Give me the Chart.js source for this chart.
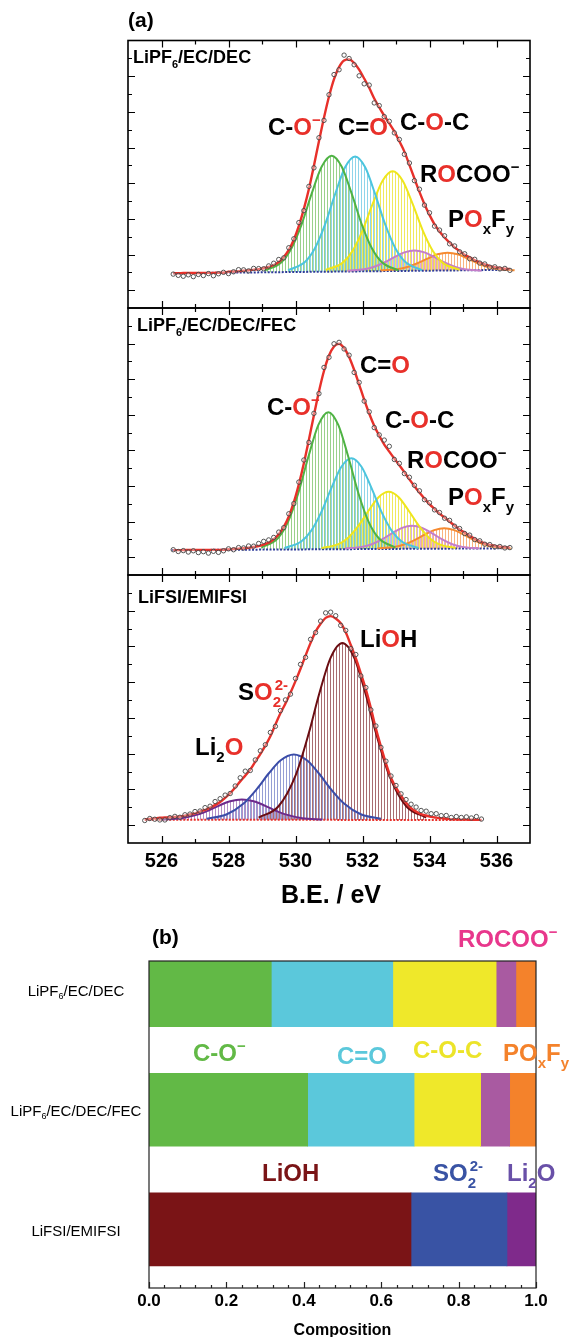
<!DOCTYPE html>
<html>
<head>
<meta charset="utf-8">
<title>O 1s XPS fits and composition</title>
<script src="https://cdn.jsdelivr.net/npm/chart.js@4.4.1/dist/chart.umd.min.js"></script>
<style>
  body { margin: 0; background: #fff; }
  #page { position: relative; width: 572px; height: 1337px; overflow: hidden; }
  #page canvas { position: absolute; left: 0; top: 0; }
</style>
</head>
<body>
<div id="page">
  <canvas id="xpsTop" width="572" height="1337"></canvas>
  <canvas id="xpsMid" width="572" height="1337"></canvas>
  <canvas id="xpsBot" width="572" height="1337"></canvas>
  <canvas id="composition" width="572" height="1337"></canvas>
</div>
<script>
// ---------- (a) O 1s spectra, B.E. in eV, intensity in arbitrary units ----------
const energyA = [526.35,526.5,526.65,526.8,526.95,527.1,527.25,527.4,527.55,527.7,527.85,528,528.15,528.3,528.45,528.6,528.75,528.9,529.05,529.2,529.35,529.5,529.65,529.8,529.95,530.1,530.25,530.4,530.55,530.7,530.85,531,531.15,531.3,531.45,531.6,531.75,531.9,532.05,532.2,532.35,532.5,532.65,532.8,532.95,533.1,533.25,533.4,533.55,533.7,533.85,534,534.15,534.3,534.45,534.6,534.75,534.9,535.05,535.2,535.35,535.5,535.65,535.8,535.95,536.1,536.25,536.4];
const energyB = [525.5,525.65,525.8,525.95,526.1,526.25,526.4,526.55,526.7,526.85,527,527.15,527.3,527.45,527.6,527.75,527.9,528.05,528.2,528.35,528.5,528.65,528.8,528.95,529.1,529.25,529.4,529.55,529.7,529.85,530,530.15,530.3,530.45,530.6,530.75,530.9,531.05,531.2,531.35,531.5,531.65,531.8,531.95,532.1,532.25,532.4,532.55,532.7,532.85,533,533.15,533.3,533.45,533.6,533.75,533.9,534.05,534.2,534.35,534.5,534.65,534.8,534.95,535.1,535.25,535.4,535.55];

// LiPF6/EC/DEC
const scanTop = [1.90,1.83,1.78,1.86,1.76,1.88,1.82,1.93,1.81,1.92,2.00,1.93,2.03,2.15,2.14,2.08,2.22,2.21,2.20,2.36,2.51,2.72,2.81,3.38,3.88,4.79,5.46,6.82,7.86,9.55,10.52,11.96,13.09,13.36,14.18,13.99,13.64,13.02,12.57,12.50,11.50,11.35,10.73,10.47,9.82,9.45,8.62,8.13,7.14,6.66,5.77,5.34,4.59,4.37,4.05,3.60,3.48,3.15,3.04,2.76,2.73,2.52,2.47,2.29,2.31,2.19,2.22,2.11];
const fitTop = [1.95,1.95,1.96,1.96,1.96,1.96,1.97,1.97,1.97,1.98,1.98,2.03,2.05,2.07,2.09,2.12,2.15,2.18,2.23,2.30,2.41,2.58,2.86,3.26,3.83,4.61,5.56,6.67,7.98,9.35,10.67,11.86,12.84,13.51,13.88,13.94,13.74,13.37,12.87,12.35,11.75,11.25,10.78,10.35,9.90,9.35,8.77,8.03,7.26,6.51,5.82,5.22,4.69,4.29,3.95,3.66,3.40,3.19,2.98,2.84,2.68,2.56,2.44,2.35,2.29,2.24,2.20,2.18];
const topCOminus = [[529.08,2.11],[529.58,2.57],[529.88,3.35],[530.18,4.68],[530.48,6.40],[530.78,7.92],[531.08,8.54],[531.38,7.92],[531.68,6.40],[531.98,4.68],[532.28,3.35],[532.58,2.57],[533.08,2.11]];
const topCdO = [[529.78,2.12],[530.28,2.58],[530.58,3.35],[530.88,4.67],[531.18,6.37],[531.48,7.89],[531.78,8.50],[532.08,7.89],[532.38,6.37],[532.68,4.67],[532.98,3.35],[533.28,2.58],[533.78,2.12]];
const topCOC = [[530.90,2.14],[531.40,2.53],[531.70,3.20],[532.00,4.34],[532.30,5.82],[532.60,7.14],[532.90,7.67],[533.20,7.14],[533.50,5.82],[533.80,4.34],[534.10,3.20],[534.40,2.53],[534.90,2.14]];
const topROCOO = [[531.55,2.09],[532.05,2.17],[532.35,2.31],[532.65,2.55],[532.95,2.85],[533.25,3.12],[533.55,3.23],[533.85,3.12],[534.15,2.85],[534.45,2.55],[534.75,2.31],[535.05,2.17],[535.55,2.09]];
const topPOF = [[532.54,2.11],[533.04,2.18],[533.34,2.30],[533.64,2.51],[533.94,2.77],[534.24,3.01],[534.54,3.10],[534.84,3.01],[535.14,2.77],[535.44,2.51],[535.74,2.30],[536.04,2.18],[536.54,2.11]];
const topBase = [[526.35,1.95],[536.45,2.14]];

// LiPF6/EC/DEC/FEC
const scanMid = [1.42,1.32,1.37,1.29,1.36,1.26,1.31,1.23,1.33,1.27,1.36,1.47,1.42,1.54,1.52,1.63,1.62,1.77,1.89,1.97,2.11,2.41,2.66,3.44,4.01,5.22,6.46,7.45,9.08,10.19,11.66,12.23,12.99,13.07,12.70,12.35,11.38,10.82,9.77,9.17,8.28,7.87,7.58,7.23,6.49,6.27,5.70,5.49,5.04,4.73,4.23,4.06,3.66,3.51,3.19,3.07,2.74,2.61,2.33,2.24,1.99,1.92,1.73,1.71,1.58,1.60,1.52,1.54];
const fitMid = [1.40,1.40,1.40,1.41,1.41,1.41,1.41,1.41,1.41,1.41,1.42,1.44,1.46,1.48,1.50,1.53,1.57,1.63,1.71,1.82,2.01,2.29,2.70,3.29,4.09,5.10,6.28,7.60,8.98,10.31,11.46,12.33,12.84,12.99,12.75,12.25,11.53,10.70,9.85,9.07,8.38,7.82,7.33,6.93,6.54,6.17,5.78,5.37,4.99,4.63,4.29,3.98,3.71,3.45,3.23,3.00,2.77,2.56,2.38,2.20,2.03,1.89,1.78,1.69,1.64,1.59,1.56,1.54];
const midCOminus = [[528.98,1.54],[529.48,2.08],[529.78,3.00],[530.08,4.58],[530.38,6.61],[530.68,8.42],[530.98,9.15],[531.28,8.42],[531.58,6.61],[531.88,4.58],[532.18,3.00],[532.48,2.08],[532.98,1.54]];
const midCdO = [[529.67,1.52],[530.17,1.88],[530.47,2.49],[530.77,3.53],[531.07,4.88],[531.37,6.08],[531.67,6.56],[531.97,6.08],[532.27,4.88],[532.57,3.53],[532.87,2.49],[533.17,1.88],[533.67,1.52]];
const midCOC = [[530.78,1.51],[531.28,1.73],[531.58,2.11],[531.88,2.77],[532.18,3.61],[532.48,4.37],[532.78,4.67],[533.08,4.37],[533.38,3.61],[533.68,2.77],[533.98,2.11],[534.28,1.73],[534.78,1.51]];
const midROCOO = [[531.48,1.49],[531.98,1.58],[532.28,1.73],[532.58,2.00],[532.88,2.34],[533.18,2.65],[533.48,2.77],[533.78,2.65],[534.08,2.34],[534.38,2.00],[534.68,1.73],[534.98,1.58],[535.48,1.49]];
const midPOF = [[532.44,1.49],[532.94,1.57],[533.24,1.71],[533.54,1.95],[533.84,2.25],[534.14,2.52],[534.44,2.63],[534.74,2.52],[535.04,2.25],[535.34,1.95],[535.64,1.71],[535.94,1.57],[536.44,1.49]];
const midBase = [[526.3,1.40],[536.4,1.50]];

// LiFSI/EMIFSI
const scanBot = [1.26,1.37,1.33,1.29,1.29,1.42,1.49,1.44,1.58,1.62,1.76,1.79,1.98,2.06,2.32,2.48,2.68,2.77,3.19,3.65,4.02,4.06,4.65,5.16,5.50,6.19,6.53,7.41,8.01,8.33,9.21,10.00,10.39,11.40,11.78,12.42,12.88,12.92,12.72,12.18,11.90,10.88,10.55,9.35,8.70,7.45,6.55,5.35,4.58,3.75,3.22,2.75,2.43,2.17,2.01,1.82,1.78,1.64,1.64,1.53,1.54,1.43,1.48,1.43,1.46,1.40,1.48,1.34];
const fitBot = [1.32,1.35,1.38,1.41,1.43,1.44,1.46,1.48,1.53,1.60,1.66,1.76,1.86,1.98,2.12,2.30,2.53,2.79,3.11,3.45,3.77,4.11,4.55,4.98,5.45,5.97,6.63,7.26,7.81,8.41,9.06,9.75,10.49,11.20,11.83,12.27,12.60,12.70,12.57,12.30,11.80,11.08,10.35,9.50,8.60,7.55,6.40,5.40,4.46,3.65,3.10,2.65,2.25,1.95,1.76,1.62,1.54,1.46,1.42,1.39,1.36,1.33,1.32,1.31,1.31,1.30,1.30,1.29];
const botLiOH = [[528.90,1.42],[529.50,2.07],[530.00,3.77],[530.40,6.17],[530.70,8.30],[531.05,10.38],[531.40,11.20],[531.75,10.38],[532.10,8.30],[532.40,6.17],[532.80,3.77],[533.30,2.07],[533.90,1.42]];
const botSO2 = [[527.35,1.36],[527.95,1.61],[528.45,2.21],[528.85,3.03],[529.20,3.89],[529.55,4.62],[529.95,4.96],[530.35,4.62],[530.70,3.89],[531.05,3.03],[531.45,2.21],[531.95,1.61],[532.55,1.36]];
const botLi2O = [[526.00,1.31],[526.60,1.39],[527.10,1.60],[527.40,1.82],[527.70,2.08],[528.05,2.34],[528.40,2.44],[528.75,2.34],[529.10,2.08],[529.40,1.82],[529.70,1.60],[530.20,1.39],[530.80,1.31]];
const botBase = [[525.5,1.30],[535.55,1.29]];

const beTicks = [526, 527, 528, 529, 530, 531, 532, 533, 534, 535, 536];
const beLabels = ['526', '528', '530', '532', '534', '536'];

// ---------- (b) composition ----------
const electrolytes = ['LiPF6/EC/DEC', 'LiPF6/EC/DEC/FEC', 'LiFSI/EMIFSI'];
const fracCOminus = [0.316, 0.410, null];
const fracCdO = [0.314, 0.275, null];
const fracCOC = [0.267, 0.172, null];
const fracROCOO = [0.051, 0.075, null];
const fracPOF = [0.052, 0.068, null];
const fracLiOH = [null, null, 0.677];
const fracSO2 = [null, null, 0.248];
const fracLi2O = [null, null, 0.075];
const compTicks = [0, 0.2, 0.4, 0.6, 0.8, 1.0];

// ---------- drawing helpers ----------
const FONT = '"Liberation Sans", Arial, Helvetica, sans-serif';
const K = '#000', RED = '#e8302a';

function rich(ctx, x, y, parts, size, weight, draw = true) {
  let cx = x;
  const small = Math.round(size * 0.62);
  for (const [t, c, k] of parts) {
    ctx.fillStyle = c;
    if (!k) {
      ctx.font = `${weight} ${size}px ${FONT}`;
      if (draw) ctx.fillText(t, cx, y);
      cx += ctx.measureText(t).width;
    } else if (k === 'both') {
      ctx.font = `${weight} ${small}px ${FONT}`;
      if (draw) {
        ctx.fillText(t[0], cx + 2, y - size * 0.42);
        ctx.fillText(t[1], cx, y + size * 0.3);
      }
      cx += Math.max(ctx.measureText(t[0]).width + 2, ctx.measureText(t[1]).width);
    } else {
      ctx.font = `${weight} ${small}px ${FONT}`;
      const dy = k === 'sub' ? size * 0.3 : -size * 0.42;
      if (draw) ctx.fillText(t, cx, y + dy);
      cx += ctx.measureText(t).width;
    }
  }
  return cx - x;
}

function stripes(color, offset) {
  const c = document.createElement('canvas');
  c.width = 3; c.height = 4;
  const g = c.getContext('2d');
  g.fillStyle = color;
  g.fillRect(offset, 0, 1, 4);
  return g.createPattern(c, 'repeat');
}

function spectrumDecor(labels, extra) {
  return {
    id: 'spectrumDecor',
    afterDraw(chart) {
      const { ctx, chartArea: a, scales: { x, y } } = chart;
      ctx.save();
      ctx.strokeStyle = '#000';
      ctx.lineWidth = 1.2;
      ctx.beginPath();
      beTicks.forEach(v => {
        const px = Math.round(x.getPixelForValue(v)) + 0.5;
        const len = v % 2 === 0 ? 7 : 4;
        ctx.moveTo(px, a.bottom); ctx.lineTo(px, a.bottom - len);
        ctx.moveTo(px, a.top); ctx.lineTo(px, a.top + len);
      });
      for (let k = 1; k < 15; k++) {
        const py = Math.round(y.getPixelForValue(k)) + 0.5;
        const len = k % 2 ? 7 : 4;
        ctx.moveTo(a.left, py); ctx.lineTo(a.left + len, py);
        ctx.moveTo(a.right, py); ctx.lineTo(a.right - len, py);
      }
      ctx.stroke();
      ctx.lineWidth = 1.6;
      ctx.strokeRect(a.left, a.top, a.right - a.left, a.bottom - a.top);
      ctx.textBaseline = 'alphabetic';
      ctx.textAlign = 'left';
      labels.forEach(([lx, ly, size, parts]) => rich(ctx, lx, ly, parts, size, 'bold'));
      if (extra) extra(ctx, a, x);
      ctx.restore();
    }
  };
}

function spectrumChart(id, top, bottom, energies, scan, fit, peaks, base, baseColor, labels, extra) {
  const baseIndex = 2 + peaks.length;
  const datasets = [
    {
      data: energies.map((e, i) => ({ x: e, y: scan[i] })),
      showLine: false, pointRadius: 2.2, pointBorderWidth: 0.9,
      pointBorderColor: '#444', pointBackgroundColor: 'rgba(255,255,255,0.35)'
    },
    {
      data: energies.map((e, i) => ({ x: e, y: fit[i] })),
      borderColor: RED, borderWidth: 2.4, pointRadius: 0,
      cubicInterpolationMode: 'monotone', fill: false
    }
  ];
  peaks.forEach(([pts, line, hatch], i) => datasets.push({
    data: pts.map(([e, v]) => ({ x: e, y: v })),
    borderColor: line, borderWidth: 2, pointRadius: 0,
    cubicInterpolationMode: 'monotone',
    backgroundColor: stripes(hatch, i % 3),
    fill: baseIndex
  }));
  datasets.push({
    data: base.map(([e, v]) => ({ x: e, y: v })),
    borderColor: baseColor, borderWidth: 2, borderDash: [2, 1.5], pointRadius: 0, fill: false
  });

  return new Chart(document.getElementById(id), {
    type: 'line',
    data: { datasets },
    options: {
      responsive: false, animation: false, events: [],
      layout: { padding: { left: 128, right: 572 - 530, top: top, bottom: 1337 - bottom } },
      plugins: { legend: { display: false }, tooltip: { enabled: false }, filler: { drawTime: 'beforeDatasetsDraw' } },
      scales: {
        x: { type: 'linear', min: 525, max: 537, display: false },
        y: { type: 'linear', min: 0, max: 15, display: false }
      }
    },
    plugins: [spectrumDecor(labels, extra)]
  });
}

const GREEN_L = '#4fb344', CYAN_L = '#4cc5de', YEL_L = '#efe61c', PURP_L = '#c47ec9', ORNG_L = '#f68a30';
const GREEN_H = 'rgba(110,190,90,0.7)', CYAN_H = 'rgba(95,195,225,0.7)', YEL_H = 'rgba(235,225,40,0.75)',
      PURP_H = 'rgba(200,130,205,0.65)', ORNG_H = 'rgba(246,140,60,0.65)';

spectrumChart('xpsTop', 40.5, 308, energyA, scanTop, fitTop,
  [[topCOminus, GREEN_L, GREEN_H], [topCdO, CYAN_L, CYAN_H], [topCOC, YEL_L, YEL_H], [topROCOO, PURP_L, PURP_H], [topPOF, ORNG_L, ORNG_H]],
  topBase, '#2e3b9a',
  [
    [133, 63, 18, [['LiPF', K], ['6', K, 'sub'], ['/EC/DEC', K]]],
    [268, 135, 24, [['C-', K], ['O', RED], ['\u2212', RED, 'sup']]],
    [338, 135, 24, [['C=', K], ['O', RED]]],
    [400, 130, 24, [['C-', K], ['O', RED], ['-C', K]]],
    [420, 182, 24, [['R', K], ['O', RED], ['COO', K], ['\u2212', K, 'sup']]],
    [448, 227, 24, [['P', K], ['O', RED], ['x', K, 'sub'], ['F', K], ['y', K, 'sub']]]
  ],
  (ctx) => {
    ctx.fillStyle = K;
    ctx.font = `bold 21px ${FONT}`;
    ctx.fillText('(a)', 128, 27);
  });

spectrumChart('xpsMid', 308, 575, energyA, scanMid, fitMid,
  [[midCOminus, GREEN_L, GREEN_H], [midCdO, CYAN_L, CYAN_H], [midCOC, YEL_L, YEL_H], [midROCOO, PURP_L, PURP_H], [midPOF, ORNG_L, ORNG_H]],
  midBase, '#2e3b9a',
  [
    [137, 331, 18, [['LiPF', K], ['6', K, 'sub'], ['/EC/DEC/FEC', K]]],
    [360, 373, 24, [['C=', K], ['O', RED]]],
    [267, 415, 24, [['C-', K], ['O', RED], ['\u2212', RED, 'sup']]],
    [385, 428, 24, [['C-', K], ['O', RED], ['-C', K]]],
    [407, 468, 24, [['R', K], ['O', RED], ['COO', K], ['\u2212', K, 'sup']]],
    [448, 505, 24, [['P', K], ['O', RED], ['x', K, 'sub'], ['F', K], ['y', K, 'sub']]]
  ]);

spectrumChart('xpsBot', 575, 843, energyB, scanBot, fitBot,
  [[botLiOH, '#6a0d12', 'rgba(140,60,66,0.75)'], [botSO2, '#3a4ca8', 'rgba(80,95,185,0.6)'], [botLi2O, '#6d2a8c', 'rgba(130,70,160,0.6)']],
  botBase, RED,
  [
    [138, 603, 18, [['LiFSI/EMIFSI', K]]],
    [360, 647, 24, [['Li', K], ['O', RED], ['H', K]]],
    [238, 700, 24, [['S', K], ['O', RED], [['2-', '2'], RED, 'both']]],
    [195, 755, 24, [['Li', K], ['2', K, 'sub'], ['O', RED]]]
  ],
  (ctx, a, x) => {
    ctx.fillStyle = K;
    ctx.textAlign = 'center';
    ctx.font = `bold 20px ${FONT}`;
    beLabels.forEach(t => ctx.fillText(t, x.getPixelForValue(Number(t)), 867));
    ctx.font = `bold 25px ${FONT}`;
    ctx.fillText('B.E. / eV', (a.left + a.right) / 2 + 2, 903);
  });

// ---------- (b) stacked composition bars ----------
const barSeries = [
  [fracCOminus, '#62b946'], [fracCdO, '#5bc8db'], [fracCOC, '#efe82a'], [fracROCOO, '#a95aa1'], [fracPOF, '#f4822b'],
  [fracLiOH, '#7a1416'], [fracSO2, '#3953a4'], [fracLi2O, '#7f2a8b']
];

const compDecor = {
  id: 'compDecor',
  afterDraw(chart) {
    const { ctx, chartArea: a, scales: { x, y } } = chart;
    ctx.save();
    ctx.strokeStyle = '#222';
    ctx.lineWidth = 1.2;
    ctx.beginPath();
    for (let k = 0; k <= 25; k++) {
      const px = Math.round(x.getPixelForValue(k * 0.04)) + 0.5;
      const len = k % 5 === 0 ? 6 : 3;
      ctx.moveTo(px, a.bottom); ctx.lineTo(px, a.bottom - len);
    }
    ctx.stroke();
    ctx.strokeRect(a.left, a.top, a.right - a.left, a.bottom - a.top);

    ctx.fillStyle = K;
    ctx.textAlign = 'center';
    ctx.font = `bold 17px ${FONT}`;
    compTicks.forEach(v => ctx.fillText(v.toFixed(1), x.getPixelForValue(v), 1306));
    ctx.font = `bold 16px ${FONT}`;
    ctx.fillText('Composition', (a.left + a.right) / 2, 1335);

    ctx.textAlign = 'left';
    ctx.font = `bold 21px ${FONT}`;
    ctx.fillText('(b)', 152, 944);

    ctx.textBaseline = 'middle';
    electrolytes.forEach((name, i) => {
      const m = name.match(/^(.*PF)(\d)(.*)$/);
      const parts = m ? [[m[1], K], [m[2], K, 'sub'], [m[3], K]] : [[name, K]];
      const w = rich(ctx, 0, 0, parts, 15, 'normal', false);
      rich(ctx, 76 - w / 2, y.getPixelForValue(i) + 2, parts, 15, 'normal');
    });

    ctx.textBaseline = 'alphabetic';
    const PINK = '#e8378c', GRN = '#62b946', CYN = '#5bc8db', YEL = '#ece429', ORG = '#f4822b',
          DRD = '#7a1416', BLU = '#3953a4', VIO = '#6950a8';
    [
      [458, 947, [['ROCOO', PINK], ['\u2212', PINK, 'sup']]],
      [193, 1061, [['C-O', GRN], ['\u2212', GRN, 'sup']]],
      [337, 1064, [['C=O', CYN]]],
      [413, 1058, [['C-O-C', YEL]]],
      [503, 1061, [['PO', ORG], ['x', ORG, 'sub'], ['F', ORG], ['y', ORG, 'sub']]],
      [262, 1181, [['LiOH', DRD]]],
      [433, 1181, [['SO', BLU], [['2-', '2'], BLU, 'both']]],
      [507, 1181, [['Li', VIO], ['2', VIO, 'sub'], ['O', VIO]]]
    ].forEach(([lx, ly, parts]) => rich(ctx, lx, ly, parts, 24, 'bold'));
    ctx.restore();
  }
};

new Chart(document.getElementById('composition'), {
  type: 'bar',
  data: {
    datasets: barSeries.map(([vals, color]) => ({
      data: vals.map((v, i) => (v == null ? null : { x: v, y: i })).filter(d => d),
      backgroundColor: color, borderWidth: 0, barThickness: 73, clip: 0
    }))
  },
  options: {
    indexAxis: 'y',
    responsive: false, animation: false, events: [],
    layout: { padding: { left: 149, right: 572 - 536, top: 961, bottom: 1337 - 1288 } },
    plugins: { legend: { display: false }, tooltip: { enabled: false } },
    scales: {
      x: { type: 'linear', min: 0, max: 1, stacked: true, offset: false, display: false },
      y: { type: 'linear', min: -0.243, max: 2.49, reverse: true, stacked: true, offset: false,
           grid: { offset: false }, display: false }
    }
  },
  plugins: [compDecor]
});
</script>
</body>
</html>
